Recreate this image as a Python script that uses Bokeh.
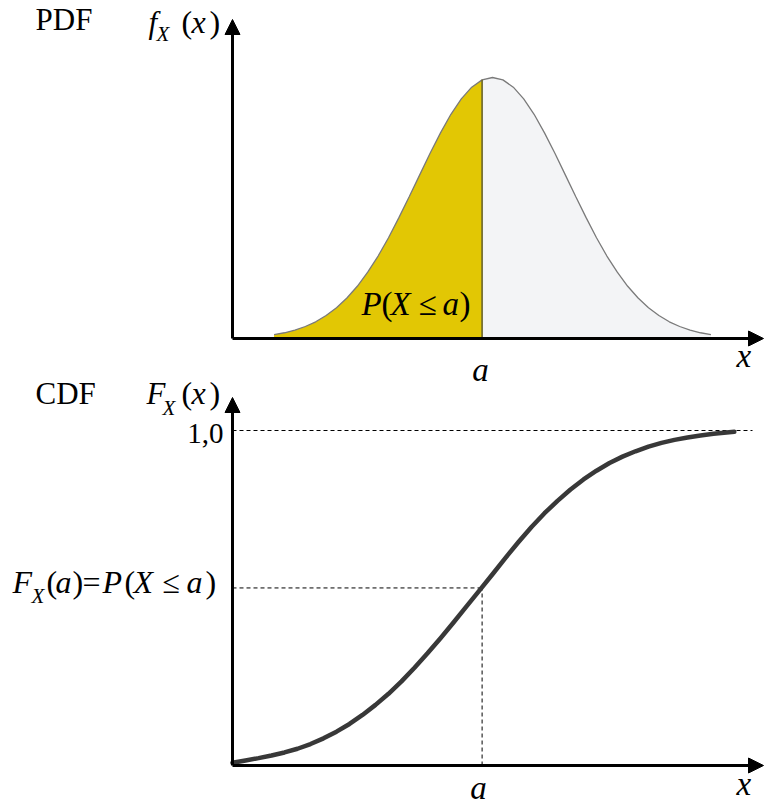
from bokeh.plotting import figure
from bokeh.models import Range1d, Arrow, NormalHead, Label
from bokeh.embed import file_html
from bokeh.resources import INLINE

# ---------------- data ----------------
a = 4.8            # the point a on the x axis
F_a = 0.53         # CDF value at a
cdf_top = 1.0      # "1,0" level

pdf_x = [0.8, 1.0, 1.2, 1.4, 1.6, 1.8, 2.0, 2.2, 2.4, 2.6, 2.8, 3.0, 3.2, 3.4,
         3.6, 3.8, 4.0, 4.2, 4.4, 4.6, 4.8, 5.0, 5.2, 5.4, 5.6, 5.8, 6.0, 6.2,
         6.4, 6.6, 6.8, 7.0, 7.2, 7.4, 7.6, 7.8, 8.0, 8.2, 8.4, 8.6, 8.8, 9.0, 9.2]
pdf_y = [0.015, 0.022, 0.032, 0.046, 0.064, 0.088, 0.118, 0.155, 0.200, 0.254,
         0.316, 0.386, 0.463, 0.544, 0.627, 0.710, 0.788, 0.859, 0.918, 0.963,
         0.991, 1.000, 0.991, 0.963, 0.918, 0.859, 0.788, 0.710, 0.627, 0.544,
         0.463, 0.386, 0.316, 0.254, 0.200, 0.155, 0.118, 0.088, 0.064, 0.046,
         0.032, 0.022, 0.015]

cdf_x = [0.0, 0.25, 0.5, 0.75, 1.0, 1.25, 1.5, 1.75, 2.0, 2.25, 2.5, 2.75, 3.0,
         3.25, 3.5, 3.75, 4.0, 4.25, 4.5, 4.75, 5.0, 5.25, 5.5, 5.75, 6.0, 6.25,
         6.5, 6.75, 7.0, 7.25, 7.5, 7.75, 8.0, 8.25, 8.5, 8.75, 9.0, 9.25, 9.5, 9.65]
cdf_y = [0.008, 0.015, 0.022, 0.030, 0.039, 0.050, 0.064, 0.081, 0.101, 0.124,
         0.151, 0.181, 0.214, 0.251, 0.292, 0.335, 0.380, 0.427, 0.475, 0.523,
         0.571, 0.620, 0.667, 0.712, 0.753, 0.790, 0.824, 0.854, 0.880, 0.903,
         0.922, 0.938, 0.952, 0.963, 0.972, 0.979, 0.985, 0.990, 0.994, 0.996]

# ---------------- layout helpers (page pixels -> data) ----------------
W, H = 766, 805
OX, UX = 232, 52.0          # page x of origin, px per x unit
OY1, UY1 = 338, 261.0       # PDF: page y of x-axis, px per unit
OY2, UY2 = 765, 335.0       # CDF: page y of x-axis, px per unit

def X(px):
    return (px - OX) / UX

def Y1(py):
    return (OY1 - py) / UY1

def Y2(py):
    return (OY2 - py) / UY2

p = figure(width=W, height=H,
           x_range=Range1d(X(0), X(W)),
           y_range=Range1d(Y1(H), Y1(0)),
           output_backend="svg", toolbar_location=None,
           x_axis_location=None, y_axis_location=None, min_border=0)
p.extra_y_ranges = {"cdf": Range1d(Y2(H), Y2(0))}
p.grid.visible = False
p.outline_line_color = None
p.background_fill_color = "white"
p.border_fill_color = "white"

# ---------------- PDF ----------------
left_x = [x for x in pdf_x if x <= a]
left_y = pdf_y[:len(left_x)]
right_x = [x for x in pdf_x if x >= a]
right_y = pdf_y[len(pdf_x) - len(right_x):]

p.varea(x=left_x, y1=[0] * len(left_x), y2=left_y, fill_color="#e2c704")
p.varea(x=right_x, y1=[0] * len(right_x), y2=right_y, fill_color="#f3f4f6")
p.line(pdf_x, pdf_y, line_color="#7a7a7a", line_width=1.3)
p.line([a, a], [0, pdf_y[pdf_x.index(a)]], line_color="#6a6428", line_width=1.6)

head = dict(size=15, fill_color="black", line_color="black", line_width=1)
p.add_layout(Arrow(end=NormalHead(**head), x_start=0, y_start=0, x_end=0, y_end=Y1(19),
                   line_width=3, line_color="black"))
p.add_layout(Arrow(end=NormalHead(**head), x_start=0, y_start=0, x_end=X(763), y_end=0,
                   line_width=3, line_color="black"))

# ---------------- CDF ----------------
p.line([0, X(752)], [cdf_top, cdf_top], y_range_name="cdf", line_color="black",
       line_width=1, line_dash="4 3")
p.line([0, a], [F_a, F_a], y_range_name="cdf", line_color="black",
       line_width=1, line_dash="4 3")
p.line([a, a], [0, F_a], y_range_name="cdf", line_color="black",
       line_width=1, line_dash="4 3")
p.line(cdf_x, cdf_y, y_range_name="cdf", line_color="#383838", line_width=4.5,
       line_cap="round", line_join="round")

p.add_layout(Arrow(end=NormalHead(**head), x_start=0, y_start=0, x_end=0, y_end=Y2(397),
                   y_range_name="cdf", line_width=3, line_color="black"))
p.add_layout(Arrow(end=NormalHead(**head), x_start=0, y_start=0, x_end=X(763), y_end=0,
                   y_range_name="cdf", line_width=3, line_color="black"))

# ---------------- texts ----------------
FONT = "Liberation Serif"

def txt(t, px, py, size, italic=False, align="left", rng="default"):
    # py = wanted baseline in page pixels; the renderer sets text ~0.36em low
    yy = py - 0.36 * size
    y = Y1(yy) if rng == "default" else Y2(yy)
    lab = Label(x=X(px), y=y, text=t, text_font=FONT, text_font_size=f"{size}px",
                text_font_style="italic" if italic else "normal",
                text_align=align, text_baseline="alphabetic", text_color="black")
    if rng != "default":
        lab.y_range_name = rng
    p.add_layout(lab)

# PDF titles
txt("PDF", 35, 30, 31)
txt("f", 148, 33, 31, italic=True)
txt("X", 156, 41, 21, italic=True)
txt("(", 181, 33, 32)
txt("x", 191, 33, 32, italic=True)
txt(")", 209, 33, 32)

# P(X <= a) inside the shaded area
txt("P", 361, 315, 33, italic=True)
txt("(", 381, 315, 33)
txt("X", 390, 315, 33, italic=True)
txt("≤", 418, 315, 33)
txt("a", 442, 315, 33, italic=True)
txt(")", 459, 315, 33)

txt("a", 480, 381, 33, italic=True, align="center")
txt("x", 736, 367, 33, italic=True)

# CDF titles
txt("CDF", 35, 404, 31, rng="cdf")
txt("F", 146, 404, 31, italic=True, rng="cdf")
txt("X", 162, 415, 21, italic=True, rng="cdf")
txt("(", 181, 404, 32, rng="cdf")
txt("x", 191, 404, 32, italic=True, rng="cdf")
txt(")", 209, 404, 32, rng="cdf")

txt("1,0", 223, 443, 29, align="right", rng="cdf")

# F_X(a) = P(X <= a)
txt("F", 12, 593, 32, italic=True, rng="cdf")
txt("X", 31, 603, 21, italic=True, rng="cdf")
txt("(", 46, 593, 32, rng="cdf")
txt("a", 55, 593, 32, italic=True, rng="cdf")
txt(")", 72, 593, 32, rng="cdf")
txt("=", 82, 593, 32, rng="cdf")
txt("P", 102, 593, 32, italic=True, rng="cdf")
txt("(", 124, 593, 32, rng="cdf")
txt("X", 133, 593, 32, italic=True, rng="cdf")
txt("≤", 162, 593, 32, rng="cdf")
txt("a", 186, 593, 32, italic=True, rng="cdf")
txt(")", 205, 593, 32, rng="cdf")

txt("a", 478, 799, 33, italic=True, align="center", rng="cdf")
txt("x", 736, 795, 33, italic=True, rng="cdf")

open("out.html", "w").write(file_html(p, INLINE))
